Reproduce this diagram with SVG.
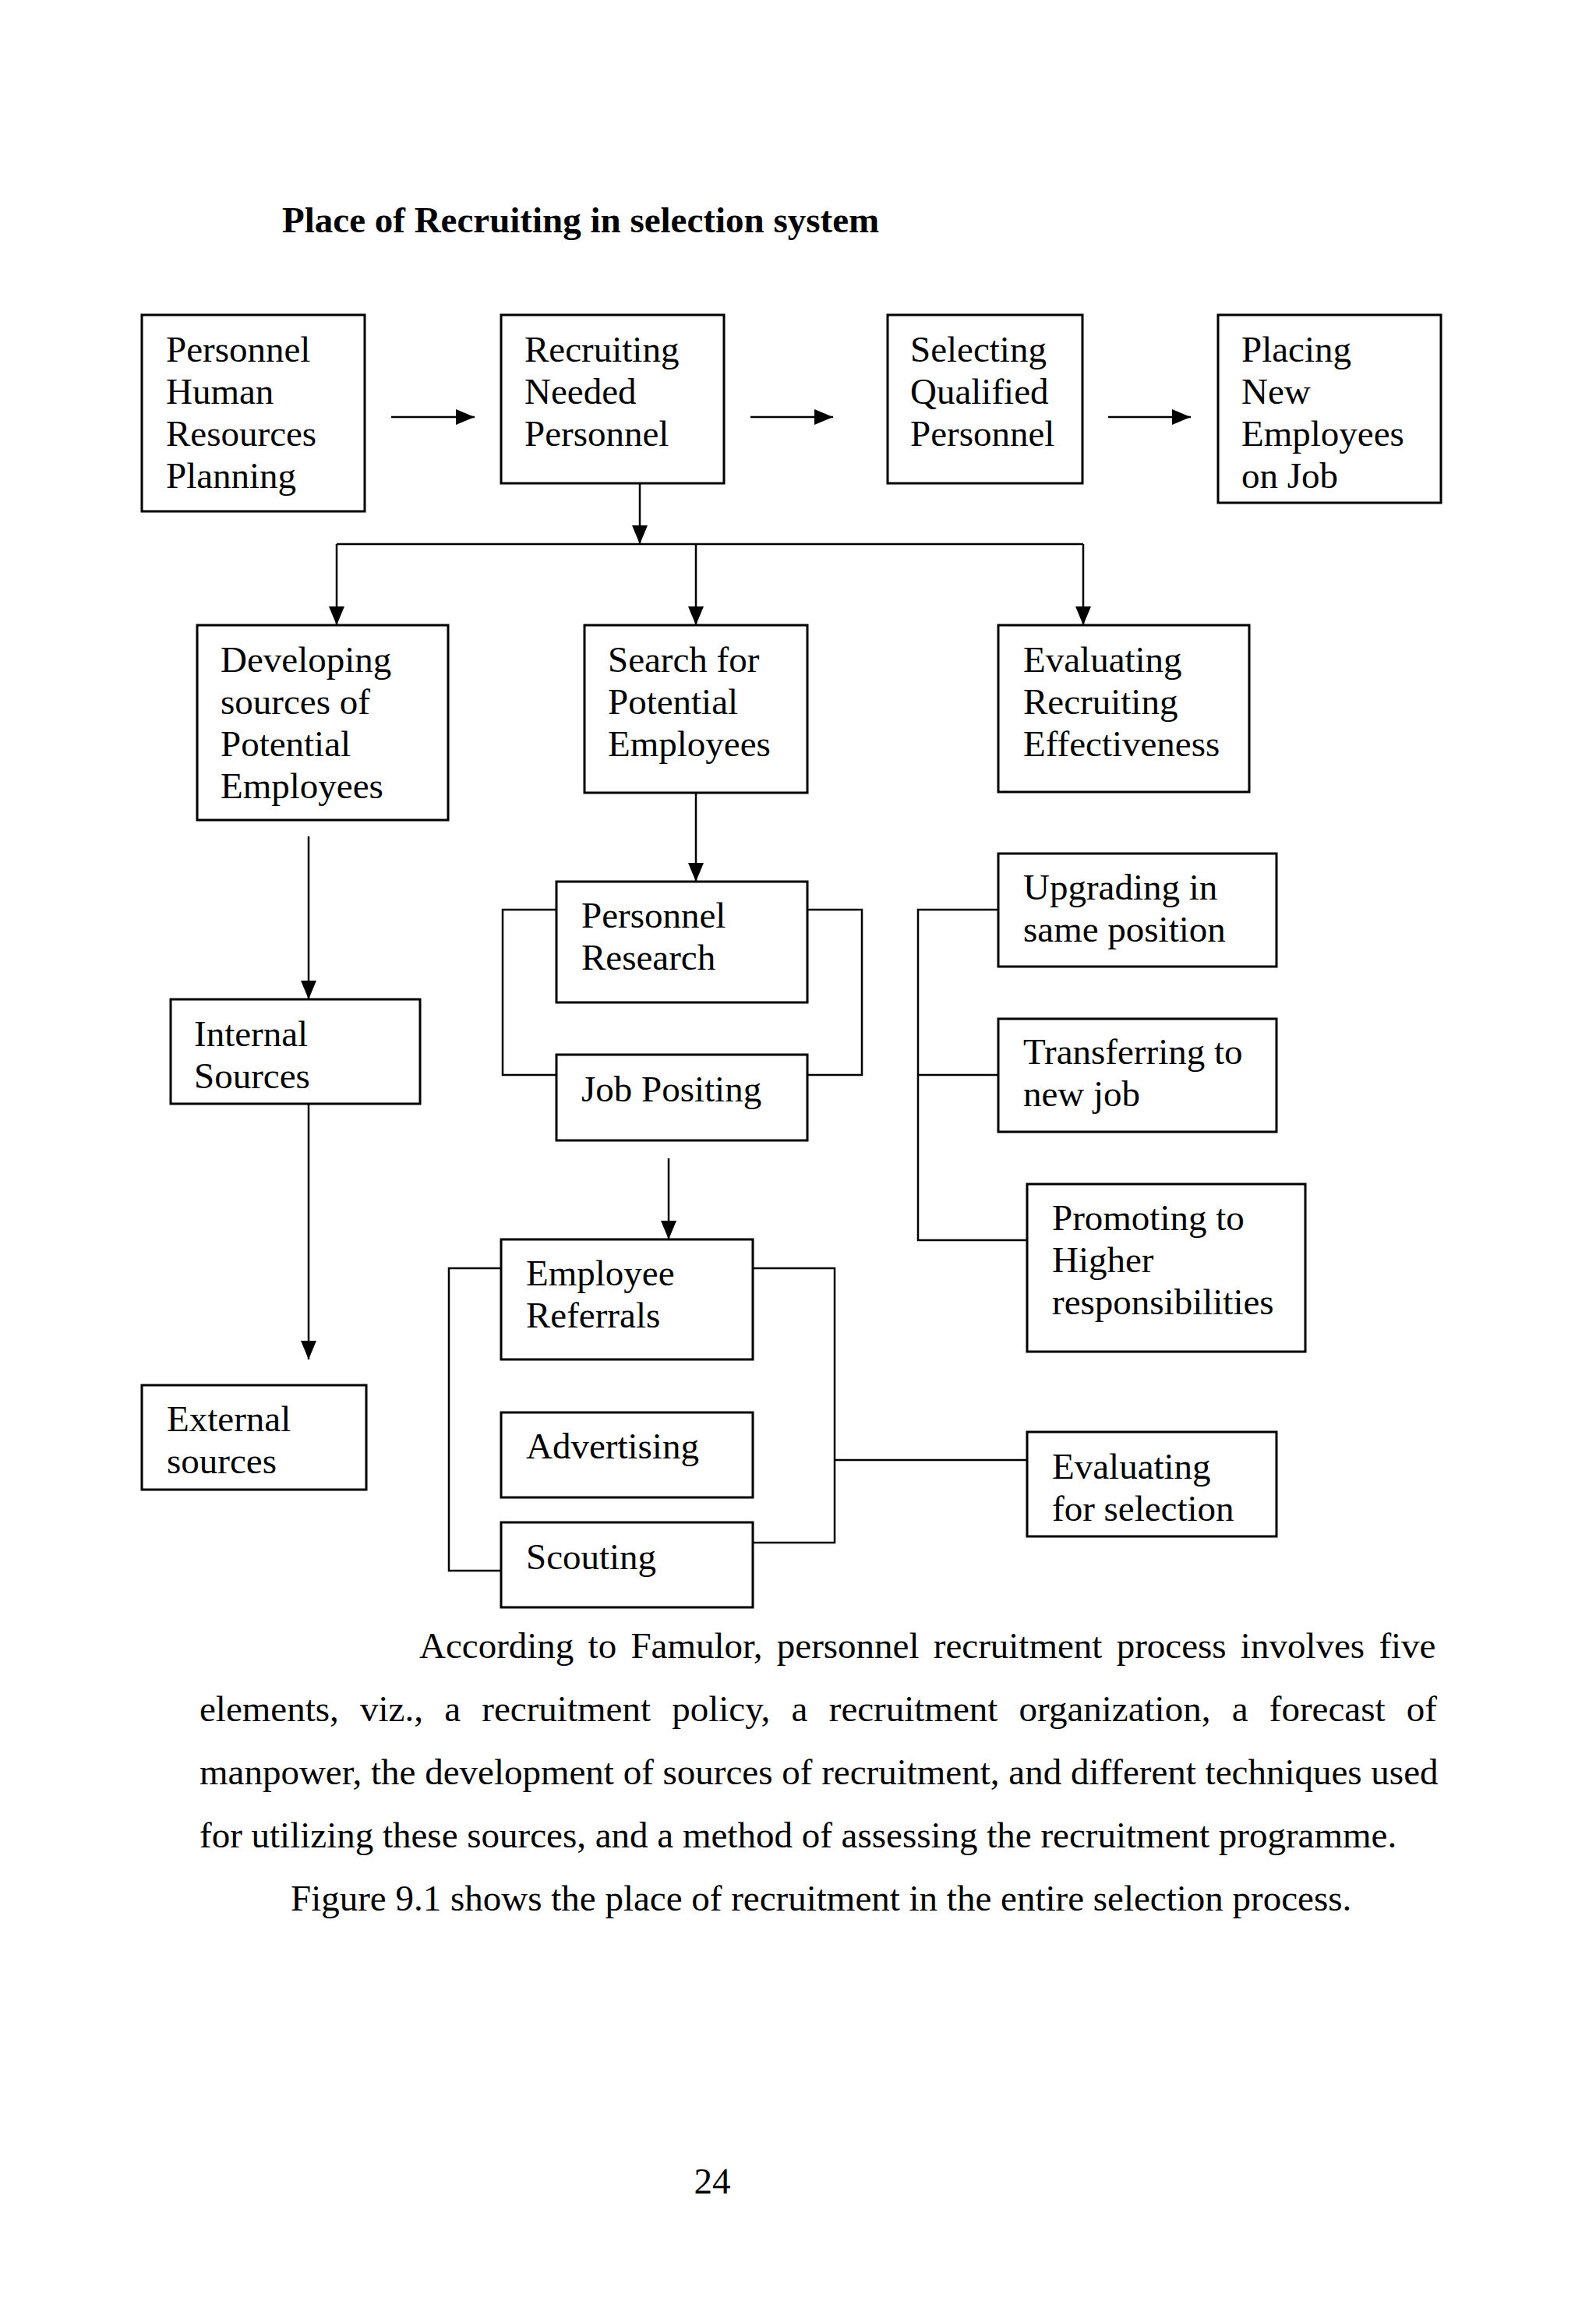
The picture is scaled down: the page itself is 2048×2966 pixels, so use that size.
<svg xmlns="http://www.w3.org/2000/svg" width="2048" height="2966" viewBox="0 0 2048 2966">
<style>
text { font-family: "Liberation Serif", "Times New Roman", serif; font-size: 47px; fill: #000; }
.title { font-weight: bold; }
.box rect { fill: #fff; stroke: #000; stroke-width: 3; }
.conn path { fill: none; stroke: #000; stroke-width: 2.5; }
.conn path.arr { marker-end: url(#ah); }
</style>
<defs>
<marker id="ah" markerWidth="24" markerHeight="20" refX="24" refY="10" orient="auto" markerUnits="userSpaceOnUse">
<path d="M0,0 L24,10 L0,20 Z" fill="#000"/>
</marker>
</defs>
<rect x="0" y="0" width="2048" height="2966" fill="#fff"/>
<text class="title" x="362" y="298">Place of Recruiting in selection system</text>

<g id="connectors" class="conn">
<path class="arr" d="M502,535 H609"/>
<path class="arr" d="M963,535 H1069"/>
<path class="arr" d="M1422,535 H1528"/>
<path class="arr" d="M821,592 V698"/>
<path d="M432,698 H1390"/>
<path class="arr" d="M432,698 V802"/>
<path class="arr" d="M893,698 V802"/>
<path class="arr" d="M1390,698 V802"/>
<path class="arr" d="M396,1073 V1282"/>
<path class="arr" d="M396,1416 V1744"/>
<path class="arr" d="M893,1002 V1131"/>
<path d="M715,1167 H645 V1379 H715"/>
<path d="M1036,1167 H1106 V1379 H1036"/>
<path class="arr" d="M858,1486 V1590"/>
<path d="M1282,1167 H1178 V1591 H1319"/>
<path d="M1178,1379 H1282"/>
<path d="M644,1627 H576 V2015 H644"/>
<path d="M966,1627 H1071 V1979 H966"/>
<path d="M1071,1873 H1319"/>
</g>

<g id="n-planning" class="box"><rect x="182" y="404" width="286" height="252"/>
<text x="213" y="464">Personnel</text><text x="213" y="518">Human</text><text x="213" y="572">Resources</text><text x="213" y="626">Planning</text></g>
<g id="n-recruiting" class="box"><rect x="643" y="404" width="286" height="216"/>
<text x="673" y="464">Recruiting</text><text x="673" y="518">Needed</text><text x="673" y="572">Personnel</text></g>
<g id="n-selecting" class="box"><rect x="1139" y="404" width="250" height="216"/>
<text x="1168" y="464">Selecting</text><text x="1168" y="518">Qualified</text><text x="1168" y="572">Personnel</text></g>
<g id="n-placing" class="box"><rect x="1563" y="404" width="286" height="241"/>
<text x="1593" y="464">Placing</text><text x="1593" y="518">New</text><text x="1593" y="572">Employees</text><text x="1593" y="626">on Job</text></g>

<g id="n-developing" class="box"><rect x="253" y="802" width="322" height="250"/>
<text x="283" y="862">Developing</text><text x="283" y="916">sources of</text><text x="283" y="970">Potential</text><text x="283" y="1024">Employees</text></g>
<g id="n-search" class="box"><rect x="750" y="802" width="286" height="215"/>
<text x="780" y="862">Search for</text><text x="780" y="916">Potential</text><text x="780" y="970">Employees</text></g>
<g id="n-evalrec" class="box"><rect x="1281" y="802" width="322" height="214"/>
<text x="1313" y="862">Evaluating</text><text x="1313" y="916">Recruiting</text><text x="1313" y="970">Effectiveness</text></g>

<g id="n-internal" class="box"><rect x="219" y="1282" width="320" height="134"/>
<text x="249" y="1342">Internal</text><text x="249" y="1396">Sources</text></g>
<g id="n-research" class="box"><rect x="714" y="1131" width="322" height="155"/>
<text x="746" y="1190">Personnel</text><text x="746" y="1244">Research</text></g>
<g id="n-jobpositing" class="box"><rect x="714" y="1353" width="322" height="110"/>
<text x="746" y="1413">Job Positing</text></g>
<g id="n-upgrading" class="box"><rect x="1281" y="1095" width="357" height="145"/>
<text x="1313" y="1154">Upgrading in</text><text x="1313" y="1208">same position</text></g>
<g id="n-transferring" class="box"><rect x="1281" y="1307" width="357" height="145"/>
<text x="1313" y="1365">Transferring to</text><text x="1313" y="1419">new job</text></g>
<g id="n-promoting" class="box"><rect x="1318" y="1519" width="357" height="215"/>
<text x="1350" y="1578">Promoting to</text><text x="1350" y="1632">Higher</text><text x="1350" y="1686">responsibilities</text></g>

<g id="n-referrals" class="box"><rect x="643" y="1590" width="323" height="154"/>
<text x="675" y="1649">Employee</text><text x="675" y="1703">Referrals</text></g>
<g id="n-external" class="box"><rect x="182" y="1777" width="288" height="134"/>
<text x="214" y="1836">External</text><text x="214" y="1890">sources</text></g>
<g id="n-advertising" class="box"><rect x="643" y="1812" width="323" height="109"/>
<text x="675" y="1871">Advertising</text></g>
<g id="n-scouting" class="box"><rect x="643" y="1953" width="323" height="109"/>
<text x="675" y="2013">Scouting</text></g>
<g id="n-evalsel" class="box"><rect x="1318" y="1837" width="320" height="134"/>
<text x="1350" y="1897">Evaluating</text><text x="1350" y="1951">for selection</text></g>

<g id="paragraph">
<text x="538" y="2127" word-spacing="6.5">According to Famulor, personnel recruitment process involves five</text>
<text x="256" y="2208" word-spacing="15.5">elements, viz., a recruitment policy, a recruitment organization, a forecast of</text>
<text x="256" y="2289" word-spacing="0">manpower, the development of sources of recruitment, and different techniques used</text>
<text x="256" y="2370">for utilizing these sources, and a method of assessing the recruitment programme.</text>
<text x="373" y="2451">Figure 9.1 shows the place of recruitment in the entire selection process.</text>
</g>
<text x="914" y="2814" text-anchor="middle">24</text>
</svg>
